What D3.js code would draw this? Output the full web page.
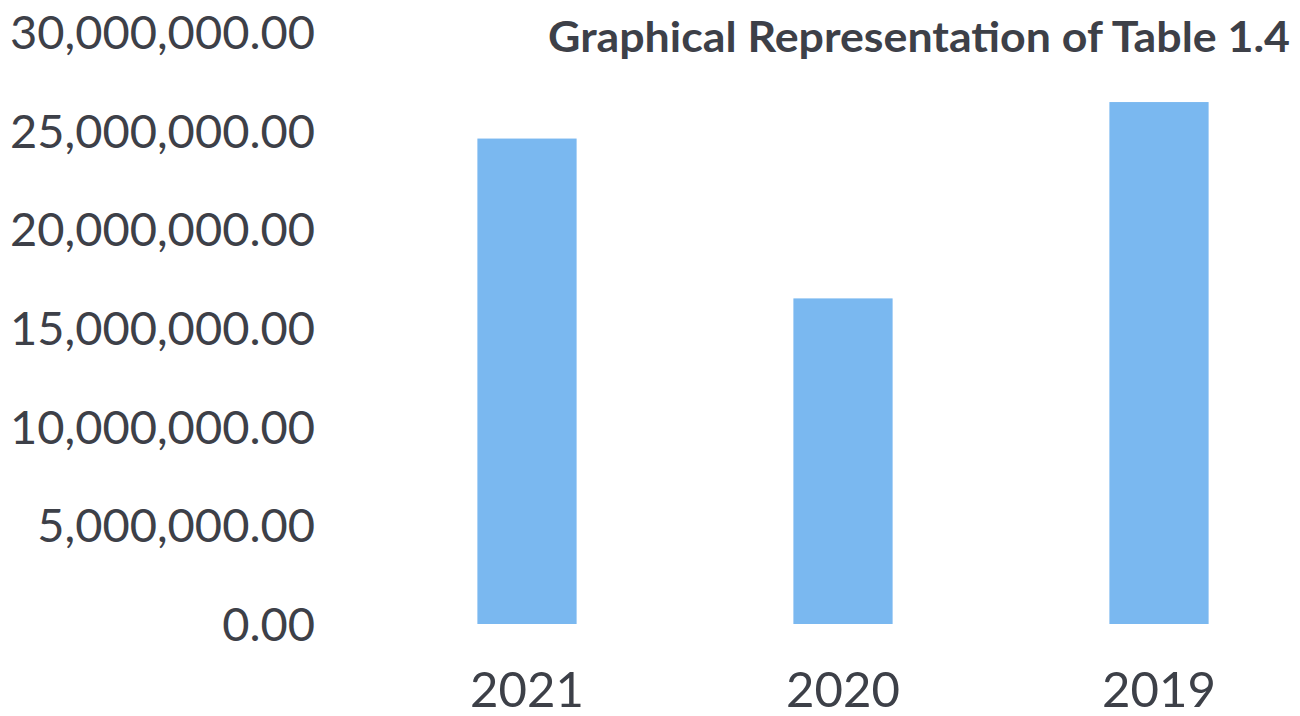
<!DOCTYPE html>
<html>
<head>
<meta charset="utf-8">
<script src="https://cdn.jsdelivr.net/npm/d3@7"></script>
<style>
  html, body { margin: 0; padding: 0; background: #ffffff; }
  svg { display: block; }
  text { font-family: Lato, "Open Sans", "Noto Sans", sans-serif; fill: #3d4048; }
</style>
</head>
<body>
<svg id="chart" width="1300" height="716"></svg>
<script>
// Table 1.4 totals by year
const categories = ["2021", "2020", "2019"];
const values = [24600000, 16500000, 26450000];
const yTicks = [0, 5000000, 10000000, 15000000, 20000000, 25000000, 30000000];
const titleText = "Graphical Representation of Table 1.4";

const W = 1300, H = 716;
const margin = { top: 32, right: 60, bottom: 93, left: 320 };

const svg = d3.select("#chart");

const x = d3.scaleBand()
  .domain(categories)
  .range([369, 1317])
  .paddingInner(0.686)
  .paddingOuter(0.343);

const y = d3.scaleLinear()
  .domain([0, 30000000])
  .range([H - margin.bottom + 1, margin.top]);

const fmt = d3.format(",.2f");

// Bars
svg.append("g")
  .selectAll("rect")
  .data(categories.map((c, i) => ({ c, v: values[i] })))
  .join("rect")
  .attr("x", d => x(d.c))
  .attr("width", x.bandwidth())
  .attr("y", d => y(d.v))
  .attr("height", d => y(0) - y(d.v))
  .attr("fill", "#7ab8f0");

// Y axis labels (no axis line, no ticks)
const yAxis = d3.axisLeft(y)
  .tickValues(yTicks)
  .tickFormat(fmt)
  .tickSize(0)
  .tickPadding(0);

const yg = svg.append("g")
  .attr("transform", "translate(315,0)")
  .call(yAxis);
yg.select(".domain").remove();
yg.selectAll("text")
  .attr("font-size", 46)
  .attr("font-family", null)
  .attr("dy", "0.36em")
  .attr("fill", "#3d4048");

// Narrow the labels to the condensed width of the original typeface
const refNode = yg.selectAll("text").filter(d => d === 30000000).node();
const yScaleW = 305 / refNode.getComputedTextLength();
yg.selectAll("text").each(function () {
  const w = this.getComputedTextLength();
  d3.select(this).attr("textLength", w * yScaleW).attr("lengthAdjust", "spacingAndGlyphs");
});

// X axis labels
const xAxis = d3.axisBottom(x).tickSize(0).tickPadding(0);
const xg = svg.append("g")
  .attr("transform", "translate(0,707)")
  .call(xAxis);
xg.select(".domain").remove();
xg.selectAll("text")
  .attr("font-size", 48)
  .attr("font-family", null)
  .attr("dy", 0)
  .attr("fill", "#3d4048")
  .each(function () {
    const w = this.getComputedTextLength();
    d3.select(this).attr("textLength", w * yScaleW).attr("lengthAdjust", "spacingAndGlyphs");
  });

// Title
const title = svg.append("text")
  .attr("x", 1290)
  .attr("y", 52)
  .attr("text-anchor", "end")
  .attr("font-size", 42)
  .attr("font-weight", "bold")
  .text(titleText);
const tw = title.node().getComputedTextLength();
title.attr("textLength", 742).attr("lengthAdjust", "spacingAndGlyphs");
</script>
</body>
</html>
